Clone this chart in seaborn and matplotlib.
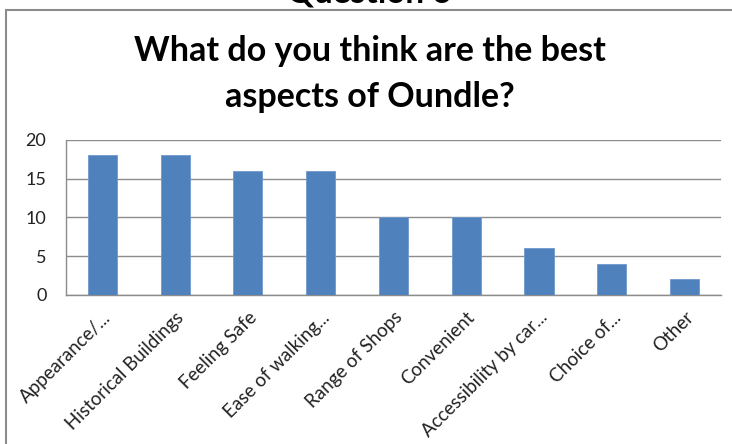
import matplotlib
matplotlib.use("Agg")
import matplotlib.pyplot as plt
import seaborn as sns
import pandas as pd
from matplotlib.lines import Line2D

categories = ["Appearance/...", "Historical Buildings", "Feeling Safe", "Ease of walking...",
              "Range of Shops", "Convenient", "Accessibility by car...", "Choice of...", "Other"]
counts = [18, 18, 16, 16, 10, 10, 6, 4, 2]
yticks = [0, 5, 10, 15, 20]

df = pd.DataFrame({"aspect": categories, "count": counts})

sns.set_style("white")
plt.rcParams["font.family"] = ["Lato", "DejaVu Sans"]

fig = plt.figure(figsize=(7.32, 4.44), dpi=100)
ax = fig.add_axes([0.090, 0.336, 0.895, 0.349])

sns.barplot(data=df, x="aspect", y="count", color="#4F81BD", saturation=1,
            width=0.4, edgecolor="#6f98cc", linewidth=0.6, ax=ax, zorder=3)

ax.set_ylim(0, 20)
ax.set_yticks(yticks)
ax.set_xlim(-0.5, len(categories) - 0.5)
ax.yaxis.grid(True, color="#8c8c8c", linewidth=1)
ax.set_axisbelow(True)
for s in ["top", "right"]:
    ax.spines[s].set_visible(False)
for s in ["left", "bottom"]:
    ax.spines[s].set_color("#8c8c8c")
    ax.spines[s].set_linewidth(1)
ax.tick_params(axis="y", length=0, labelsize=13, colors="#222222", pad=14)
ax.set_xlabel("")
ax.set_ylabel("")
ax.set_xticks(range(len(categories)))
ax.set_xticklabels(categories, rotation=45, ha="right", rotation_mode="anchor",
                   fontsize=13.5, color="#222222")
ax.tick_params(axis="x", length=0, pad=10)

# outer chart border (only left and top edges visible in the crop)
fig.add_artist(Line2D([6 / 732, 6 / 732], [0, 1 - 10 / 444], transform=fig.transFigure,
                      color="#8c8c8c", linewidth=1.5))
fig.add_artist(Line2D([6 / 732, 1.05], [1 - 10 / 444, 1 - 10 / 444], transform=fig.transFigure,
                      color="#8c8c8c", linewidth=1.5))

# slide heading, mostly cropped off above the chart
fig.text(0.505, 1.016, "Question 6", ha="center", va="center", fontsize=24,
         fontweight="bold", color="black")
fig.text(0.505, 0.886, "What do you think are the best", ha="center", va="center",
         fontsize=24.5, fontweight="bold", color="black")
fig.text(0.505, 0.781, "aspects of Oundle?", ha="center", va="center",
         fontsize=24.5, fontweight="bold", color="black")

fig.savefig("out.png", dpi=100)
